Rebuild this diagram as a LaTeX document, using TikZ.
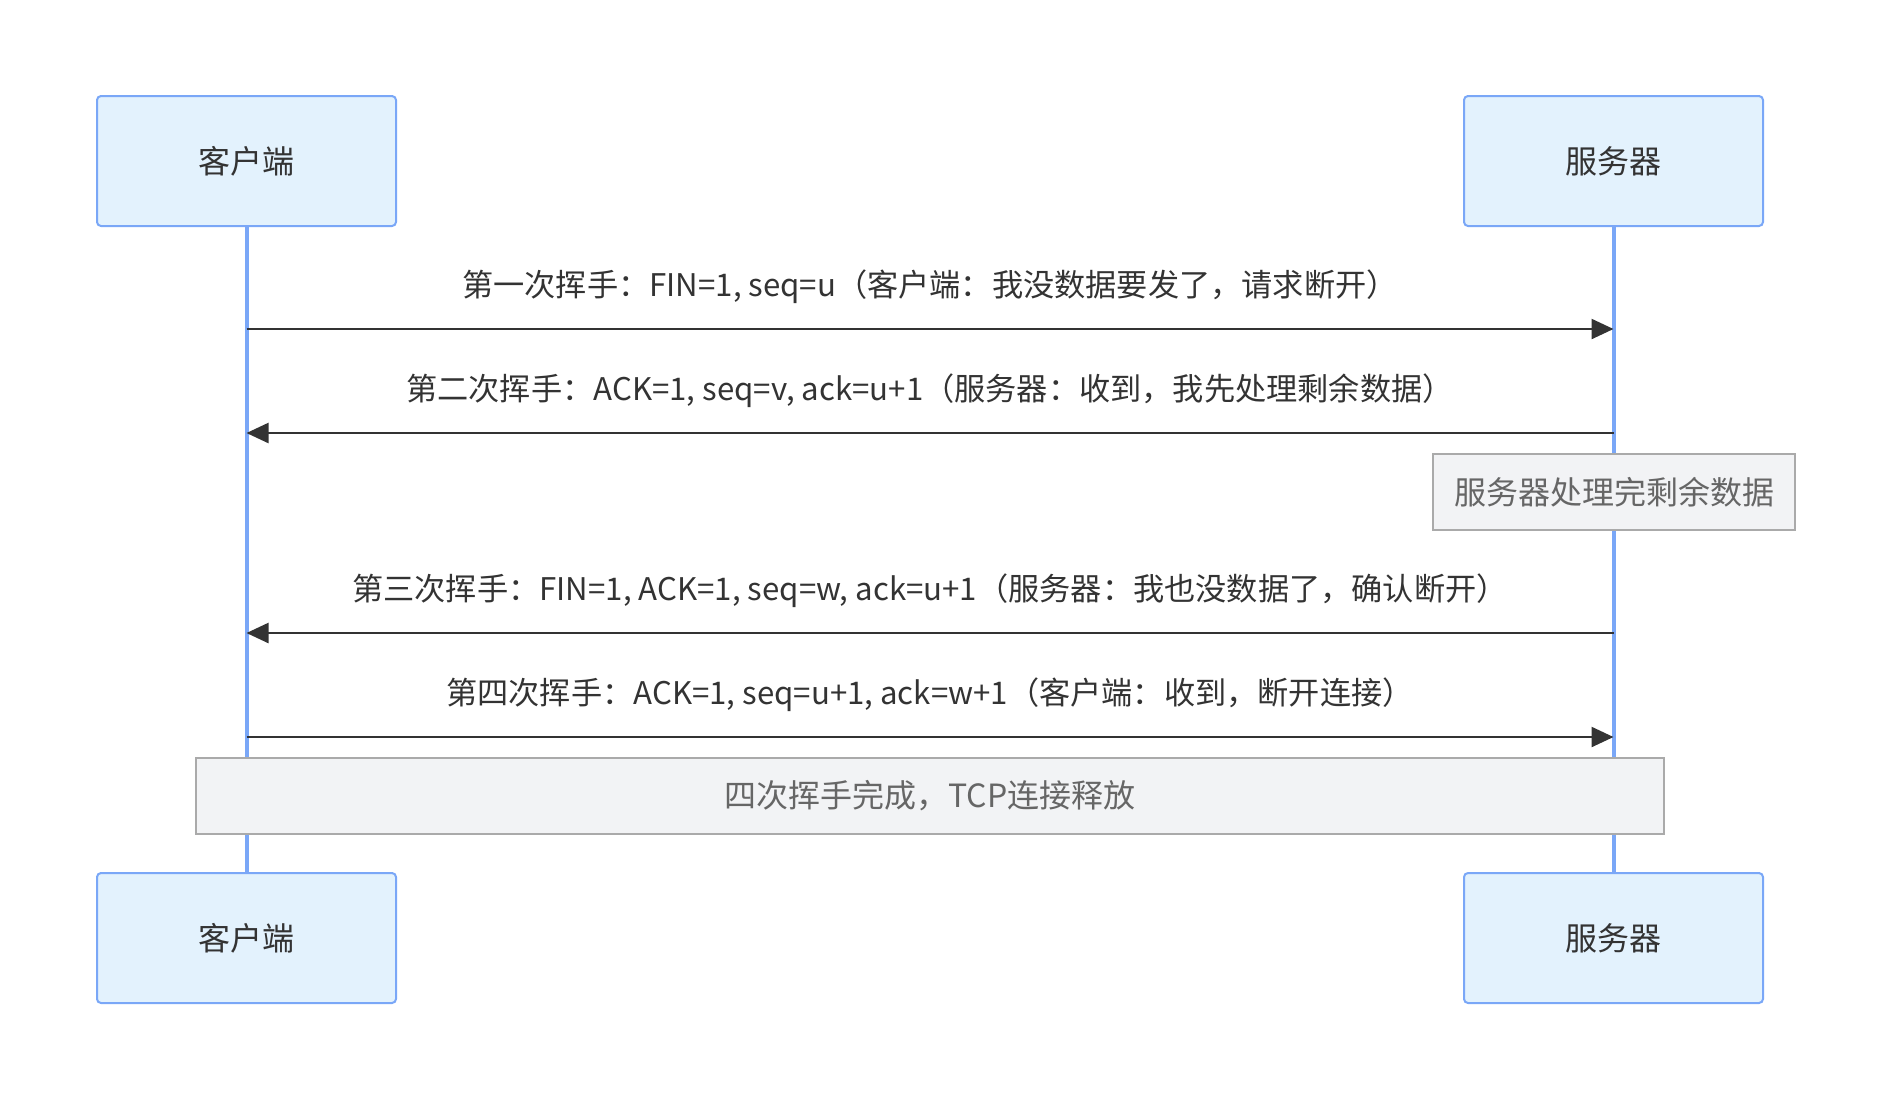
\documentclass[tikz,border=0pt]{standalone}
\usepackage{fontspec}
\setmainfont{Noto Sans CJK SC}
\usetikzlibrary{arrows.meta}
\definecolor{actorfill}{HTML}{E3F2FD}
\definecolor{actorline}{HTML}{7AA7F7}
\definecolor{notefill}{HTML}{F2F3F5}
\definecolor{noteline}{HTML}{AAAAAA}
\definecolor{msgline}{HTML}{333333}
\definecolor{notetext}{HTML}{666666}
\begin{document}
\begin{tikzpicture}[x=0.5pt,y=-0.5pt,
    actor/.style={draw=actorline, fill=actorfill, line width=1pt, rounded corners=2pt,
        minimum width=149.5pt, minimum height=65pt, text=msgline, font=\fontsize{16}{19}\selectfont},
    note/.style={draw=noteline, fill=notefill, line width=1pt, minimum height=38pt,
        text=notetext, font=\fontsize{16}{19}\selectfont},
    msg/.style={draw=msgline, line width=1.2pt, -{Triangle[length=11pt,width=10pt]}},
    msglabel/.style={text=msgline, font=\fontsize{15.6}{19}\selectfont}]
    \useasboundingbox (0,0) rectangle (1891,1100);
    \node[actor] (c) at (246.5,161) {客户端};
    \node[actor] (s) at (1613.5,161) {服务器};
    \node[actor] (cb) at (246.5,938) {客户端};
    \node[actor] (sb) at (1613.5,938) {服务器};
    \draw[actorline, line width=2pt] (c.south) -- (cb.north);
    \draw[actorline, line width=2pt] (s.south) -- (sb.north);
    \foreach \n/\y in {1/329, 2/433, 3/633, 4/737} {
        \coordinate (c\n) at (246.5,\y);
        \coordinate (s\n) at (1613.5,\y);
    }
    \draw[msg] (c1) -- (s1) node[msglabel, midway, above=9pt] {第一次挥手：FIN=1, seq=u（客户端：我没数据要发了，请求断开）};
    \draw[msg] (s2) -- (c2) node[msglabel, midway, above=9pt] {第二次挥手：ACK=1, seq=v, ack=u+1（服务器：收到，我先处理剩余数据）};
    \node[note, minimum width=181pt] (n1) at (1614,492) {服务器处理完剩余数据};
    \draw[msg] (s3) -- (c3) node[msglabel, midway, above=9pt] {第三次挥手：FIN=1, ACK=1, seq=w, ack=u+1（服务器：我也没数据了，确认断开）};
    \draw[msg] (c4) -- (s4) node[msglabel, midway, above=9pt] {第四次挥手：ACK=1, seq=u+1, ack=w+1（客户端：收到，断开连接）};
    \node[note, minimum width=734pt] (n2) at (930,796) {四次挥手完成，TCP连接释放};
\end{tikzpicture}
\end{document}
